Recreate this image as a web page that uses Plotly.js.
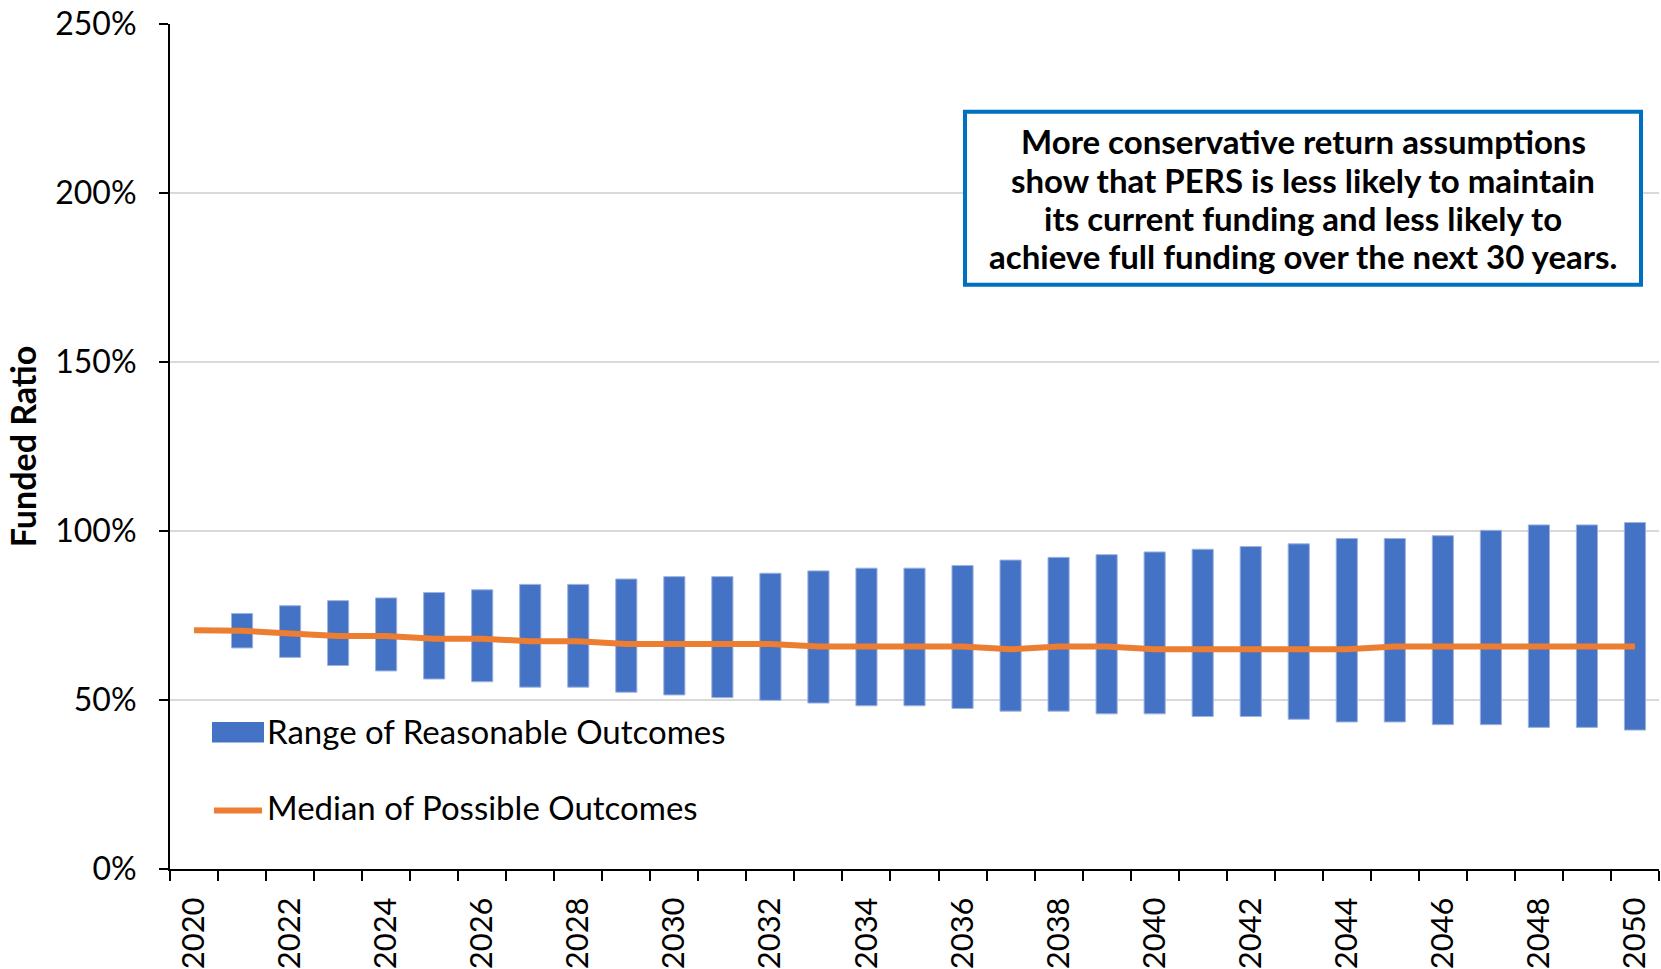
<!DOCTYPE html>
<html>
<head>
<meta charset="utf-8">
<script src="https://cdn.plot.ly/plotly-3.0.1.min.js"></script>
<style>html,body{margin:0;padding:0;background:#fff;}#chart{width:1661px;height:969px;}</style>
</head>
<body>
<div id="chart"></div>
<script>
const years = [2020,2021,2022,2023,2024,2025,2026,2027,2028,2029,2030,2031,2032,2033,2034,2035,2036,2037,2038,2039,2040,2041,2042,2043,2044,2045,2046,2047,2048,2049,2050];
const rangeLow = [null,65.4,62.6,60.2,58.6,56.2,55.4,53.8,53.8,52.3,51.5,50.7,49.9,49.1,48.3,48.3,47.5,46.7,46.7,45.9,45.9,45.1,45.1,44.3,43.5,43.5,42.7,42.7,41.9,41.9,41.1];
const rangeHigh = [null,75.6,77.9,79.4,80.2,81.8,82.6,84.2,84.2,85.8,86.5,86.5,87.5,88.2,89.0,89.0,89.8,91.4,92.2,93.0,93.8,94.6,95.4,96.2,97.8,97.8,98.6,100.2,101.8,101.8,102.5];
const median = [70.6,70.5,69.7,68.9,68.9,68.1,68.1,67.4,67.4,66.6,66.6,66.6,66.6,65.8,65.8,65.8,65.8,65.0,65.8,65.8,65.0,65.0,65.0,65.0,65.0,65.8,65.8,65.8,65.8,65.8,65.8];
const xTickYears = [2020,2022,2024,2026,2028,2030,2032,2034,2036,2038,2040,2042,2044,2046,2048,2050];
const yTicks = [0,50,100,150,200,250];
const seriesNames = ['Range of Reasonable Outcomes','Median of Possible Outcomes'];
const yTitle = 'Funded Ratio';
const noteLines = [
  'More conservative return assumptions',
  'show that PERS is less likely to maintain',
  'its current funding and less likely to',
  'achieve full funding over the next 30 years.'
];

const FONT = 'Lato, "Open Sans", sans-serif';
const BLUE = '#4472C4';
const ORANGE = '#ED7D31';

const heights = rangeHigh.map((h, i) => (h === null || rangeLow[i] === null) ? null : +(h - rangeLow[i]).toFixed(2));

const traces = [
  {
    type: 'bar', name: seriesNames[0], x: years, y: heights, base: rangeLow,
    width: 0.44, marker: {color: BLUE, line: {color: '#9DB3E0', width: 1}},
    showlegend: false, hoverinfo: 'skip'
  },
  {
    type: 'scatter', mode: 'lines', name: seriesNames[1], x: years, y: median,
    line: {color: ORANGE, width: 6}, showlegend: false, hoverinfo: 'skip'
  }
];

// paper-coordinate helpers (plot area 170..1659 x 24..869)
const L = 170, R = 1659, T = 24.3, B = 869.3;
const px = v => (v - L) / (R - L);
const py = v => (B - v) / (B - T);

const noteY = [141, 180, 218.5, 256.5];
const noteAnnotations = noteLines.map((t, i) => ({
  xref: 'paper', yref: 'paper', x: px(1303), y: py(noteY[i]), xanchor: 'center', yanchor: 'middle',
  text: '<b>' + t + '</b>', showarrow: false, align: 'center',
  font: {family: FONT, size: 33, color: '#000'}
}));

const layout = {
  width: 1661, height: 969,
  margin: {l: 170, r: 2, t: 24, b: 100, pad: 0},
  paper_bgcolor: '#fff', plot_bgcolor: '#fff',
  font: {family: FONT, color: '#000', size: 30},
  showlegend: false,
  xaxis: {
    type: 'linear', range: [2019.5, 2050.5], fixedrange: true,
    tickmode: 'array', tickvals: xTickYears, ticktext: xTickYears.map(String),
    tickangle: -90, ticks: '', ticklabelstandoff: 14,
    tickfont: {family: FONT, size: 31, color: '#000'},
    showgrid: false, zeroline: false,
    showline: true, linecolor: '#000', linewidth: 2,
    minor: {tickmode: 'linear', tick0: 2019.5, dtick: 1, ticks: 'outside', ticklen: 10, tickwidth: 2, tickcolor: '#000', showgrid: false}
  },
  yaxis: {
    range: [0, 250], fixedrange: true,
    tickmode: 'array', tickvals: yTicks, ticktext: yTicks.map(v => v + '%'),
    ticks: 'outside', ticklen: 9, tickwidth: 2, tickcolor: '#000',
    tickfont: {family: FONT, size: 32, color: '#000'},
    ticklabelstandoff: 16,
    showgrid: true, gridcolor: '#D9D9D9', gridwidth: 2,
    zeroline: false, showline: true, linecolor: '#000', linewidth: 2,
    title: {text: '<b>' + yTitle + '</b>', font: {family: FONT, size: 34, color: '#000'}, standoff: 8}
  },
  shapes: [
    {type: 'rect', xref: 'paper', yref: 'paper', x0: px(965), x1: px(1641), y0: py(285), y1: py(112),
     line: {color: '#0070C0', width: 4}, fillcolor: '#fff', layer: 'above'},
    {type: 'rect', xref: 'paper', yref: 'paper', x0: px(212), x1: px(264), y0: py(742.7), y1: py(722.3),
     line: {width: 0}, fillcolor: BLUE},
    {type: 'line', xref: 'paper', yref: 'paper', x0: px(214), x1: px(262), y0: py(810.7), y1: py(810.7),
     line: {color: ORANGE, width: 6}}
  ],
  annotations: noteAnnotations.concat([
    {xref: 'paper', yref: 'paper', x: px(265), y: py(731), xanchor: 'left', yanchor: 'middle',
     text: seriesNames[0], showarrow: false, font: {family: FONT, size: 33, color: '#000'}},
    {xref: 'paper', yref: 'paper', x: px(265), y: py(807), xanchor: 'left', yanchor: 'middle',
     text: seriesNames[1], showarrow: false, font: {family: FONT, size: 33, color: '#000'}}
  ])
};

Plotly.newPlot('chart', traces, layout, {staticPlot: true, displayModeBar: false});
</script>
</body>
</html>
